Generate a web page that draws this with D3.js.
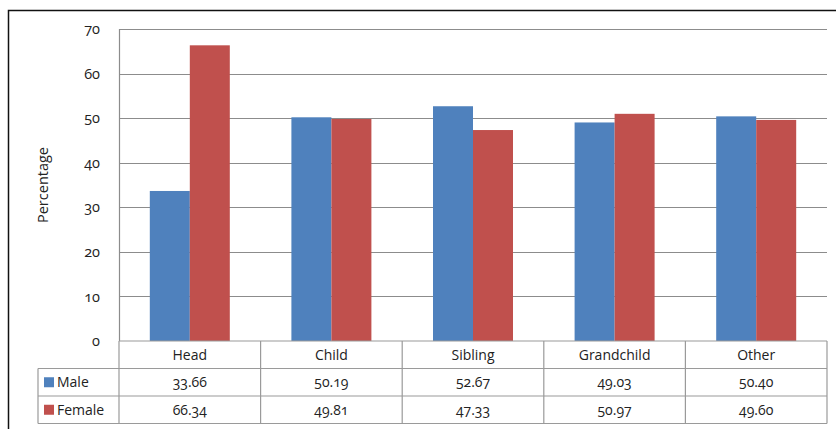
<!DOCTYPE html>
<html>
<head>
<meta charset="utf-8">
<script src="https://cdn.jsdelivr.net/npm/d3@7/dist/d3.min.js"></script>
<style>
  body { margin: 0; background: #fff; }
  svg text { font-family: "Open Sans", "DejaVu Sans", sans-serif; font-variant-numeric: oldstyle-nums; fill: #222; }
</style>
</head>
<body>
<svg id="chart" width="836" height="429"></svg>
<script>
const categories = ["Head", "Child", "Sibling", "Grandchild", "Other"];
const seriesNames = ["Male", "Female"];
const maleValues = [33.66, 50.19, 52.67, 49.03, 50.40];
const femaleValues = [66.34, 49.81, 47.33, 50.97, 49.60];
const yTicks = [0, 10, 20, 30, 40, 50, 60, 70];

const colors = ["#4f81bd", "#c0504d"];
const series = [maleValues, femaleValues];

const width = 836, height = 429;
const margin = { top: 29, right: 9, left: 119 };
const plotBottom = 341;
const rowH = 27.5;
const legendLeft = 38;

const svg = d3.select("#chart");

// outer frame (top and left edges only are visible in the reference)
svg.append("path")
  .attr("d", `M8.5,${height} V10.5 H${width}`)
  .attr("fill", "none")
  .attr("stroke", "#111")
  .attr("stroke-width", 1.5);

const x0 = d3.scaleBand()
  .domain(categories)
  .range([margin.left, width - margin.right]);

const x1 = d3.scaleBand()
  .domain(seriesNames)
  .range([0, x0.bandwidth()])
  .paddingOuter(0.77)
  .paddingInner(0);

const y = d3.scaleLinear()
  .domain([0, 70])
  .range([plotBottom, margin.top]);

// gridlines
svg.append("g")
  .selectAll("line")
  .data(yTicks.slice(1))
  .join("line")
  .attr("x1", margin.left)
  .attr("x2", width - margin.right)
  .attr("y1", d => Math.round(y(d)) + 0.5)
  .attr("y2", d => Math.round(y(d)) + 0.5)
  .attr("stroke", "#8c8c8c")
  .attr("stroke-width", 1.2);

// y tick labels
const yAxis = d3.axisLeft(y).tickValues(yTicks).tickSize(0).tickPadding(19);
const yg = svg.append("g")
  .attr("transform", `translate(${margin.left},0)`)
  .call(yAxis);
yg.select(".domain").remove();
yg.selectAll("text").style("font-size", "14.5px").style("fill", "#222");

// bars
svg.append("g")
  .selectAll("g")
  .data(categories)
  .join("g")
  .attr("transform", d => `translate(${x0(d)},0)`)
  .selectAll("rect")
  .data((d, i) => seriesNames.map((s, j) => ({ s, v: series[j][i], j })))
  .join("rect")
  .attr("x", d => x1(d.s))
  .attr("y", d => y(d.v))
  .attr("width", x1.bandwidth())
  .attr("height", d => plotBottom - y(d.v))
  .attr("fill", d => colors[d.j]);

// y axis line
svg.append("line")
  .attr("x1", margin.left + 0.5).attr("x2", margin.left + 0.5)
  .attr("y1", margin.top).attr("y2", plotBottom)
  .attr("stroke", "#8c8c8c").attr("stroke-width", 1.2);

// y title
svg.append("text")
  .attr("transform", `translate(48,${(margin.top + plotBottom) / 2}) rotate(-90)`)
  .attr("text-anchor", "middle")
  .attr("font-size", 14.5)
  .text("Percentage");

// data table
const tableRight = width - margin.right;
const grid = svg.append("g").attr("stroke", "#9a9a9a").attr("stroke-width", 1.2).attr("fill", "none");
// horizontal rules
grid.append("line").attr("x1", margin.left).attr("x2", tableRight).attr("y1", plotBottom).attr("y2", plotBottom);
[1, 2, 3].forEach(r => {
  grid.append("line")
    .attr("x1", legendLeft)
    .attr("x2", tableRight)
    .attr("y1", plotBottom + r * rowH).attr("y2", plotBottom + r * rowH);
});
// vertical rules
grid.append("line").attr("x1", legendLeft).attr("x2", legendLeft)
  .attr("y1", plotBottom + rowH).attr("y2", plotBottom + 3 * rowH);
categories.forEach(c => {
  grid.append("line").attr("x1", x0(c)).attr("x2", x0(c))
    .attr("y1", plotBottom).attr("y2", plotBottom + 3 * rowH);
});
grid.append("line").attr("x1", tableRight).attr("x2", tableRight)
  .attr("y1", plotBottom).attr("y2", plotBottom + 3 * rowH);

// category header
svg.append("g")
  .selectAll("text")
  .data(categories)
  .join("text")
  .attr("x", d => x0(d) + x0.bandwidth() / 2)
  .attr("y", plotBottom + rowH / 2 + 5)
  .attr("text-anchor", "middle")
  .attr("font-size", 14)
  .text(d => d);

// legend + values
seriesNames.forEach((name, j) => {
  const rowY = plotBottom + (j + 1) * rowH;
  svg.append("rect")
    .attr("x", legendLeft + 6).attr("y", rowY + rowH / 2 - 5)
    .attr("width", 10).attr("height", 10)
    .attr("fill", colors[j]);
  svg.append("text")
    .attr("x", legendLeft + 19).attr("y", rowY + rowH / 2 + 5)
    .attr("font-size", 14)
    .text(name);
  svg.append("g")
    .selectAll("text")
    .data(categories)
    .join("text")
    .attr("x", d => x0(d) + x0.bandwidth() / 2)
    .attr("y", rowY + rowH / 2 + 5)
    .attr("text-anchor", "middle")
    .attr("font-size", 14)
    .text((d, i) => series[j][i].toFixed(2));
});
</script>
</body>
</html>
